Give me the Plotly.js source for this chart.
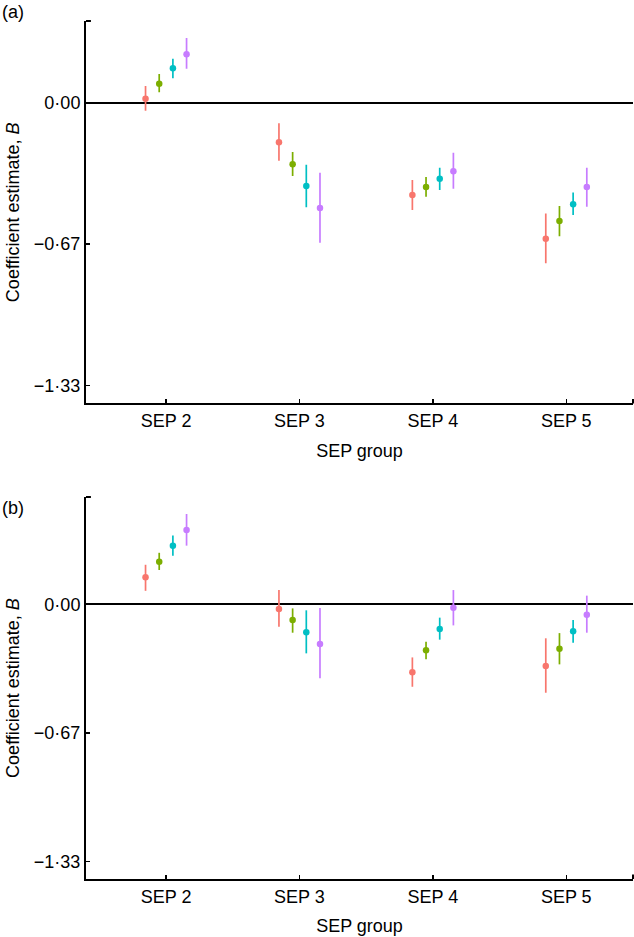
<!DOCTYPE html>
<html>
<head>
<meta charset="utf-8">
<script src="https://cdn.plot.ly/plotly-3.0.1.min.js"></script>
<style>
  html, body { margin: 0; padding: 0; background: #fff; }
  #chart { width: 634px; height: 937px; }
</style>
</head>
<body>
<div id="chart"></div>
<script>
// Categorías del eje X (grupos SEP) y colores de las 4 series (hue de ggplot)
const SEP_GROUPS = ['SEP 2', 'SEP 3', 'SEP 4', 'SEP 5'];
const SERIES_NAMES = ['Modelo 1', 'Modelo 2', 'Modelo 3', 'Modelo 4'];
const SERIES_COLOURS = ['#F8766D', '#7CAE00', '#00BFC4', '#C77CFF'];

// Ticks del eje Y: tercios, rotulados con punto medio
const Y_TICK_VALUES = [0, -2 / 3, -4 / 3];
const Y_TICK_LABELS = ['0·00', '−0·67', '−1·33'];

// Panel (a): una fila por serie, una columna por grupo SEP
const A_ESTIMATE = [
  [0.018, -0.187, -0.435, -0.641],
  [0.089, -0.290, -0.398, -0.558],
  [0.162, -0.393, -0.359, -0.479],
  [0.228, -0.497, -0.323, -0.398],
];
const A_LOWER = [
  [-0.039, -0.274, -0.506, -0.757],
  [0.049, -0.346, -0.443, -0.629],
  [0.115, -0.493, -0.412, -0.530],
  [0.159, -0.660, -0.406, -0.491],
];
const A_UPPER = [
  [0.078, -0.098, -0.365, -0.522],
  [0.134, -0.233, -0.351, -0.487],
  [0.206, -0.293, -0.307, -0.423],
  [0.304, -0.331, -0.236, -0.307],
];

// Panel (b)
const B_ESTIMATE = [
  [0.140, -0.024, -0.352, -0.320],
  [0.221, -0.081, -0.238, -0.230],
  [0.304, -0.145, -0.128, -0.140],
  [0.385, -0.206, -0.018, -0.054],
];
const B_LOWER = [
  [0.070, -0.116, -0.427, -0.458],
  [0.178, -0.147, -0.285, -0.311],
  [0.252, -0.254, -0.183, -0.199],
  [0.304, -0.383, -0.109, -0.147],
];
const B_UPPER = [
  [0.205, 0.074, -0.275, -0.176],
  [0.267, -0.021, -0.194, -0.149],
  [0.357, -0.031, -0.069, -0.081],
  [0.468, -0.019, 0.074, 0.045],
];

const FONT = 'Liberation Sans, Arial, Helvetica, sans-serif';
const MARGIN = { l: 86, r: 1, t: 21, b: 58 };
const PLOT_W = 634 - MARGIN.l - MARGIN.r;

function trazasPanel(estimate, lower, upper, xa, ya) {
  return estimate.map((est, i) => ({
    type: 'scatter',
    mode: 'markers',
    name: SERIES_NAMES[i],
    xaxis: xa,
    yaxis: ya,
    x: SEP_GROUPS,
    y: est,
    offsetgroup: String(i),
    marker: { size: 6.5, color: SERIES_COLOURS[i] },
    error_y: {
      type: 'data',
      symmetric: false,
      array: est.map((v, j) => upper[i][j] - v),
      arrayminus: est.map((v, j) => v - lower[i][j]),
      color: SERIES_COLOURS[i],
      thickness: 1.7,
      width: 0,
    },
    showlegend: false,
    hoverinfo: 'x+y',
  }));
}

const data = [
  ...trazasPanel(A_ESTIMATE, A_LOWER, A_UPPER, 'x', 'y'),
  ...trazasPanel(B_ESTIMATE, B_LOWER, B_UPPER, 'x2', 'y2'),
];

function ejeX(anchor) {
  return {
    anchor,
    type: 'category',
    range: [-0.6, 3.5],
    showline: true, linecolor: '#000', linewidth: 2,
    ticks: 'inside', ticklen: 4, tickwidth: 1.5, tickcolor: '#000',
    showgrid: false, zeroline: false,
    tickfont: { size: 18, color: '#000' },
    title: { text: 'SEP group', font: { size: 18, color: '#000' }, standoff: 14 },
  };
}

function ejeY(anchor, domain, range) {
  return {
    anchor,
    domain,
    range,
    tickvals: Y_TICK_VALUES,
    ticktext: Y_TICK_LABELS,
    showline: true, linecolor: '#000', linewidth: 2,
    ticks: 'inside', ticklen: 4, tickwidth: 1.5, tickcolor: '#000',
    showgrid: false,
    zeroline: true, zerolinecolor: '#000', zerolinewidth: 2,
    tickfont: { size: 18, color: '#000' },
    title: { text: 'Coefficient estimate, <i>B</i>', font: { size: 18, color: '#000' }, standoff: 10 },
  };
}

// Remates cortos del marco: tic arriba del eje Y y tic al final del eje X
function remates(xd, yd) {
  const linea = { type: 'line', line: { color: '#000', width: 2 } };
  return [
    { ...linea, xref: xd, yref: yd, x0: 0, x1: 0.009, y0: 1, y1: 1 },
    { ...linea, xref: xd, yref: yd, x0: 1, x1: 1, y0: 0, y1: 0.012 },
  ];
}

const layout = {
  width: 634,
  height: 937,
  margin: MARGIN,
  paper_bgcolor: '#fff',
  plot_bgcolor: '#fff',
  font: { family: FONT, size: 18, color: '#000' },
  scattermode: 'group',
  scattergap: 0.59,
  xaxis: ejeX('y'),
  yaxis: ejeY('x', [0.5542, 1], [-1.417, 0.384]),
  xaxis2: ejeX('y2'),
  yaxis2: ejeY('x2', [0, 0.4452], [-1.423, 0.556]),
  shapes: [...remates('x domain', 'y domain'), ...remates('x2 domain', 'y2 domain')],
  annotations: [
    { text: '(a)', xref: 'paper', yref: 'paper', x: -MARGIN.l / PLOT_W, y: 1.0105, xanchor: 'left', yanchor: 'middle', showarrow: false, font: { size: 18 } },
    { text: '(b)', xref: 'paper', yref: 'paper', x: -MARGIN.l / PLOT_W, y: 0.4324, xanchor: 'left', yanchor: 'middle', showarrow: false, font: { size: 18 } },
  ],
};

Plotly.newPlot('chart', data, layout, { displayModeBar: false, staticPlot: true });
</script>
</body>
</html>
